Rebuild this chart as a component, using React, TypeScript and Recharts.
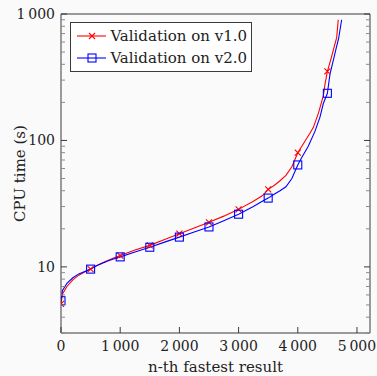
import React from 'react';
import { LineChart, Line, XAxis, YAxis } from 'recharts';

// n-th fastest result (x) and CPU time in seconds (y)
const v1N = [0, 25, 100, 200, 300, 400, 500, 600, 700, 800, 900, 1000, 1250, 1500, 1750, 2000, 2250, 2500, 2750, 3000, 3250, 3400, 3500, 3600, 3700, 3800, 3900, 4000, 4100, 4200, 4264, 4350, 4432, 4460, 4500, 4560, 4610, 4657, 4684];
const v1Time = [5.1, 6.1, 7.0, 7.9, 8.6, 9.1, 9.6, 10.2, 10.8, 11.3, 11.8, 12.3, 13.6, 14.8, 16.5, 18.3, 20.3, 22.5, 25.2, 28.5, 33, 36.5, 41, 44, 48, 53, 62, 80, 95, 113, 127, 165, 226, 279, 352, 440, 540, 650, 900];

const v2N = [0, 25, 100, 200, 300, 400, 500, 600, 700, 800, 900, 1000, 1250, 1500, 1750, 2000, 2250, 2500, 2750, 3000, 3250, 3400, 3500, 3600, 3700, 3800, 3900, 4000, 4065, 4177, 4290, 4375, 4430, 4500, 4544, 4600, 4650, 4690, 4741];
const v2Time = [5.4, 6.5, 7.4, 8.2, 8.8, 9.2, 9.6, 10.2, 10.7, 11.2, 11.6, 12.0, 13.1, 14.3, 15.7, 17.2, 18.9, 20.7, 23.2, 26.1, 30, 33, 35, 37.5, 40, 43, 50, 64, 73, 90, 118, 153, 195, 236, 335, 430, 540, 640, 900];

const xTicks = [0, 1000, 2000, 3000, 4000, 5000];
const yMajor = [10, 100, 1000];
const yTicks = [3, 4, 5, 6, 7, 8, 9, 10, 20, 30, 40, 50, 60, 70, 80, 90, 100, 200, 300, 400, 500, 600, 700, 800, 900, 1000];

const v1Data = v1N.map((n, i) => ({ n, t: v1Time[i] }));
const v2Data = v2N.map((n, i) => ({ n, t: v2Time[i] }));

const RED = '#ff0000';
const BLUE = '#0000ff';
const FRAME = '#3a3a3a';
const FONT = 'DejaVu Serif';

function fmt(v: number) {
  return v >= 1000 ? `${Math.floor(v / 1000)}\u2009${String(v % 1000).padStart(3, '0')}` : String(v);
}

function LeftTick(props: any) {
  const { x, y, payload } = props;
  const major = yMajor.includes(payload.value);
  return (
    <g>
      <line x1={x} x2={x + (major ? 6 : 4)} y1={y} y2={y} stroke={major ? FRAME : '#8a8a8a'} />
      {major && (
        <text x={x - 6} y={y} dy={5} textAnchor="end" fontSize={14} fontFamily={FONT} fill="#222">
          {fmt(payload.value)}
        </text>
      )}
    </g>
  );
}

function RightTick(props: any) {
  const { x, y, payload } = props;
  const major = yMajor.includes(payload.value);
  return <line x1={x} x2={x - (major ? 6 : 4)} y1={y} y2={y} stroke={major ? FRAME : '#8a8a8a'} />;
}

function BottomTick(props: any) {
  const { x, y, payload } = props;
  return (
    <g>
      <line x1={x} x2={x} y1={y} y2={y - 6} stroke={FRAME} />
      <text x={x} y={y + 18} textAnchor="middle" fontSize={14} fontFamily={FONT} fill="#222">
        {fmt(payload.value)}
      </text>
    </g>
  );
}

function TopTick(props: any) {
  const { x, y } = props;
  return <line x1={x} x2={x} y1={y} y2={y + 6} stroke={FRAME} />;
}

function Cross(props: any) {
  const { cx, cy, payload } = props;
  if (payload.n % 500 !== 0) return <g key={`c${payload.n}`} />;
  return (
    <path key={`c${payload.n}`} d={`M${cx - 3},${cy - 3}L${cx + 3},${cy + 3}M${cx - 3},${cy + 3}L${cx + 3},${cy - 3}`} stroke={RED} strokeWidth={1.1} />
  );
}

function Square(props: any) {
  const { cx, cy, payload } = props;
  if (payload.n % 500 !== 0) return <g key={`s${payload.n}`} />;
  return <rect key={`s${payload.n}`} x={cx - 4} y={cy - 4} width={8} height={8} fill="none" stroke={BLUE} strokeWidth={1.1} />;
}

function LegendBox() {
  const row = (color: string, label: string, mark: React.ReactNode) => (
    <div style={{ display: 'flex', alignItems: 'center', height: 22 }}>
      <svg width={34} height={12} style={{ marginRight: 4 }}>
        <line x1={2} x2={32} y1={6} y2={6} stroke={color} strokeWidth={1.1} />
        {mark}
      </svg>
      <span style={{ fontFamily: FONT, fontSize: 15, color: '#222', whiteSpace: 'nowrap' }}>{label}</span>
    </div>
  );
  return (
    <div
      style={{
        position: 'absolute',
        left: 70,
        top: 22,
        width: 182,
        height: 50,
        border: `1px solid ${FRAME}`,
        background: '#fff',
        padding: '2px 4px',
        boxSizing: 'border-box',
      }}
    >
      {row(RED, 'Validation on v1.0', <path d="M14,3L20,9M14,9L20,3" stroke={RED} strokeWidth={1.1} />)}
      {row(BLUE, 'Validation on v2.0', <rect x={13} y={2} width={8} height={8} fill="none" stroke={BLUE} strokeWidth={1.1} />)}
    </div>
  );
}

export default function App() {
  return (
    <div style={{ position: 'absolute', left: 0, top: 0, width: 377, height: 376, background: '#fafafa' }}>
      <LineChart width={377} height={376} margin={{ top: 0, right: 0, bottom: 0, left: 0 }}>
        <XAxis
          dataKey="n"
          type="number"
          domain={[0, 5220]}
          ticks={xTicks}
          allowDataOverflow
          height={43}
          tickSize={0}
          tickMargin={0}
          tick={BottomTick}
          axisLine={{ stroke: FRAME }}
          label={{ value: 'n-th fastest result', position: 'insideBottom', offset: 4, fontSize: 15, fontFamily: FONT, fill: '#222' }}
        />
        <XAxis
          xAxisId="top"
          orientation="top"
          type="number"
          domain={[0, 5220]}
          ticks={xTicks}
          allowDataOverflow
          height={14}
          tickSize={0}
          tickMargin={0}
          tick={TopTick}
          axisLine={{ stroke: FRAME }}
        />
        <YAxis
          type="number"
          scale="log"
          domain={[3, 1000]}
          ticks={yTicks}
          interval={0}
          allowDataOverflow
          width={61}
          tickSize={0}
          tickMargin={0}
          tick={LeftTick}
          axisLine={{ stroke: FRAME }}
          label={{ value: 'CPU time (s)', angle: -90, position: 'insideLeft', offset: 20, fontSize: 15, fontFamily: FONT, fill: '#222', style: { textAnchor: 'middle' } }}
        />
        <YAxis
          yAxisId="right"
          orientation="right"
          type="number"
          scale="log"
          domain={[3, 1000]}
          ticks={yTicks}
          interval={0}
          allowDataOverflow
          width={7}
          tickSize={0}
          tickMargin={0}
          tick={RightTick}
          axisLine={{ stroke: FRAME }}
        />
        <Line data={v1Data} dataKey="t" stroke={RED} strokeWidth={1.1} dot={Cross} activeDot={false} isAnimationActive={false} />
        <Line data={v2Data} dataKey="t" stroke={BLUE} strokeWidth={1.1} dot={Square} activeDot={false} isAnimationActive={false} />
      </LineChart>
      <LegendBox />
    </div>
  );
}
